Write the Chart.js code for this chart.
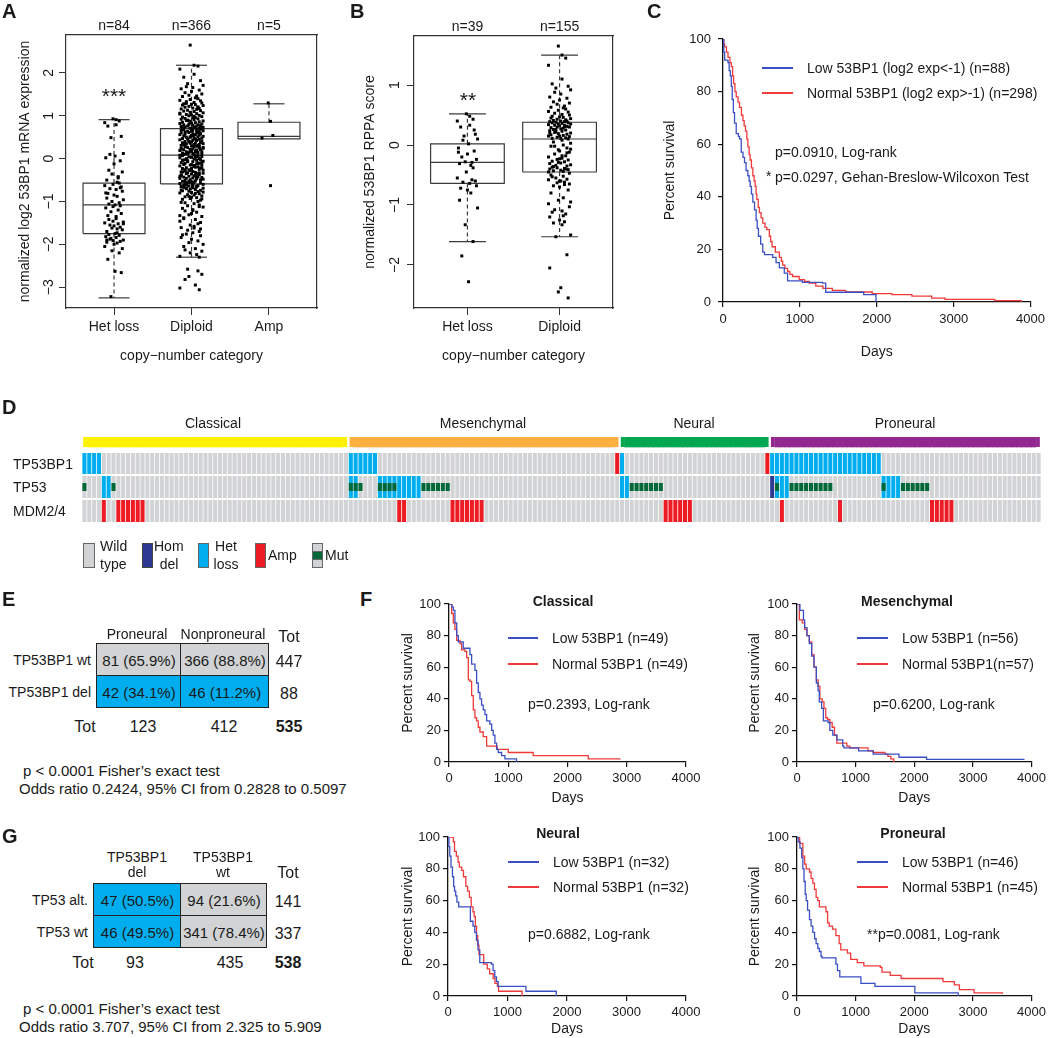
<!DOCTYPE html>
<html><head><meta charset="utf-8">
<script src="https://cdn.jsdelivr.net/npm/chart.js@4.4.0/dist/chart.umd.min.js"></script>
<style>
body{margin:0;background:#fff;width:1050px;height:1038px;position:relative;overflow:hidden;font-family:Arial,"Liberation Sans",Helvetica,sans-serif;color:#1a1a1a}
canvas{position:absolute}
.t{position:absolute;line-height:1;white-space:nowrap}
.r{position:absolute;box-sizing:border-box}
</style></head><body>
<script>
// ===================== DATA =====================
// shared jitter list (tenths of the half-spread), typed values
const J = [-1,2,5,-9,2,-6,7,-3,9,-4,1,-8,6,0,-5,8,-2,4,-7,3,
5,-1,-9,7,-4,2,8,-6,0,3,-7,9,-2,5,-5,1,6,-8,4,-3,
7,-6,2,-1,9,-9,4,-4,0,6,-2,8,-7,3,1,-5,5,-8,2,-3,
-4,9,-1,6,-7,3,0,-9,8,-2,5,-6,1,7,-3,4,-8,2,-5,9,
3,-7,6,-1,0,8,-4,5,-9,2,-2,7,-6,4,1,-8,9,-3,6,-5,
-2,4,-8,7,1,-5,3,-9,6,0,-6,9,-1,5,-4,2,8,-7,3,-3,
6,-9,1,4,-2,8,-5,0,7,-7,3,-1,9,-4,2,-6,5,-8,0,4,
-5,2,9,-3,6,-8,1,-1,7,-6,4,-9,3,0,8,-4,5,-2,-7,1,
8,-3,-6,2,5,-9,0,7,-1,4,-5,6,-8,3,1,-2,9,-4,-7,6,
-1,5,-7,3,8,-2,0,-9,6,-4,2,7,-6,4,-3,9,1,-8,5,-5,
4,-6,8,-1,2,-9,5,3,-4,7,-7,0,6,-2,9,-5,1,-8,3,-3,
9,-4,0,6,-8,2,-2,5,-6,8,1,-9,4,-1,7,-5,3,-7,0,2,
-3,7,-9,1,5,-4,8,-6,2,0,-1,6,-8,4,9,-2,-5,3,-7,6,
2,-5,4,-9,7,-1,6,-3,0,8,-7,3,-4,9,1,-6,5,-2,-8,4,
-6,1,9,-4,3,-8,7,-2,5,0,-9,6,-3,2,8,-5,4,-1,-7,7,
5,-8,2,6,-3,9,-7,1,-5,4,0,-2,8,-6,3,-9,7,-4,1,-1,
-7,3,-2,8,-5,6,1,-9,4,-4,9,0,-6,5,-1,2,-8,7,-3,6,
1,-4,7,-8,0,5,-2,9,-6,3,-5,8,-1,4,-9,6,2,-7,-3,5,
8,-2,-5,3,-9,6];

// ---- Panel A : mRNA expression by copy number
const A_categories = ['Het loss','Diploid','Amp'];
const A_nLabels = ['n=84','n=366','n=5'];
const A_whiskerLow = [-3.25,-2.30,0.46];
const A_q1 = [-1.75,-0.59,0.46];
const A_median = [-1.08,0.08,0.52];
const A_q3 = [-0.57,0.70,0.85];
const A_whiskerHigh = [0.91,2.18,1.28];
const A_yTicks = [-3,-2,-1,0,1,2];
const A_hetLoss = [0.93,0.91,0.88,0.84,0.79,0.76,0.52,0.49,0.12,0.10,0.06,0.02,-0.05,-0.12,-0.27,-0.31,-0.36,-0.42,-0.50,-0.55,
-0.57,-0.60,-0.63,-0.66,-0.70,-0.72,-0.76,-0.81,-0.85,-0.88,-0.92,-0.96,-1.00,-1.03,-1.06,-1.08,-1.10,-1.15,-1.20,-1.24,
-1.28,-1.33,-1.40,-1.46,-1.48,-1.50,-1.52,-1.55,-1.57,-1.60,-1.62,-1.66,-1.70,-1.73,-1.75,-1.77,-1.79,-1.82,-1.84,-1.86,
-1.88,-1.90,-1.91,-1.93,-1.95,-1.97,-2.00,-2.05,-2.10,-2.15,-2.20,-2.35,-2.63,-2.66,-3.22,-0.45,-0.80,-1.35,-1.42,-1.52,-1.64,-1.90,-0.68,-1.12];
const A_diploid = [2.65,2.18,2.16,2.09,1.97,1.90,1.82,1.75,1.71,1.68,1.66,1.63,1.60,1.57,1.54,1.51,
1.48,1.46,1.45,1.42,1.40,1.38,1.36,1.35,1.33,1.31,1.30,1.28,1.27,1.26,1.25,1.24,1.22,1.21,1.20,1.18,
1.17,1.16,1.15,1.13,1.12,1.11,1.10,1.08,1.07,1.06,1.05,1.03,1.02,1.01,1.00,0.98,0.97,0.96,0.95,0.94,
0.93,0.92,0.91,0.90,0.89,0.88,0.87,0.86,0.85,0.84,0.83,0.82,0.81,0.80,0.79,0.79,0.78,0.77,0.76,0.76,
0.75,0.74,0.74,0.73,0.72,0.72,0.71,0.71,0.70,0.70,1.29,1.19,1.04,0.99,0.88,
0.69,0.68,0.67,0.66,0.66,0.65,0.64,0.63,0.62,0.61,0.61,0.60,0.59,0.58,0.57,0.56,0.56,0.55,0.54,0.53,
0.52,0.51,0.51,0.50,0.49,0.48,0.47,0.46,0.46,0.45,0.44,0.43,0.42,0.41,0.41,0.40,0.39,0.38,0.37,0.36,
0.36,0.35,0.34,0.33,0.32,0.31,0.31,0.30,0.29,0.28,0.27,0.26,0.26,0.25,0.24,0.23,0.22,0.21,0.21,0.20,
0.19,0.18,0.17,0.16,0.16,0.15,0.14,0.13,0.12,0.11,0.11,0.10,0.09,0.09,0.08,0.64,0.58,0.50,0.43,0.35,
0.28,0.22,0.15,0.53,0.39,0.24,0.12,0.47,0.33,0.19,0.60,
0.07,0.06,0.05,0.04,0.03,0.02,0.01,0.00,-0.01,-0.02,-0.03,-0.04,-0.05,-0.06,-0.07,-0.09,-0.10,-0.11,-0.12,-0.13,
-0.14,-0.15,-0.16,-0.17,-0.19,-0.20,-0.21,-0.22,-0.23,-0.24,-0.25,-0.26,-0.27,-0.29,-0.30,-0.31,-0.32,-0.33,-0.34,-0.35,
-0.36,-0.37,-0.39,-0.40,-0.41,-0.42,-0.43,-0.44,-0.45,-0.46,-0.47,-0.49,-0.50,-0.51,-0.52,-0.53,-0.54,-0.55,-0.56,-0.57,
-0.58,-0.59,0.05,-0.02,-0.08,-0.13,-0.18,-0.23,-0.28,-0.33,-0.38,-0.44,-0.48,-0.53,-0.57,0.03,-0.04,-0.11,-0.16,-0.26,
-0.35,-0.42,-0.50,-0.55,0.00,-0.07,-0.14,-0.21,-0.31,-0.40,-0.46,
-0.60,-0.61,-0.62,-0.63,-0.64,-0.65,-0.66,-0.67,-0.68,-0.69,-0.70,-0.72,-0.73,-0.74,-0.76,-0.77,-0.79,-0.80,-0.82,-0.84,
-0.85,-0.87,-0.89,-0.91,-0.93,-0.95,-0.97,-1.00,-1.02,-1.05,-1.08,-1.10,-1.13,-1.16,-1.19,-1.22,-1.25,-1.28,-1.31,-1.35,
-1.38,-1.42,-1.46,-1.49,-0.62,-0.66,-0.71,-0.75,-0.81,-0.88,-0.94,-1.03,-1.12,-1.21,-1.33,-0.64,-0.70,-0.78,-0.90,-1.40,
-1.52,-1.55,-1.58,-1.61,-1.64,-1.67,-1.70,-1.73,-1.76,-1.80,-1.84,-1.88,-1.92,-1.96,-2.00,-2.05,-2.10,-2.13,-2.16,-2.20,
-2.24,-2.28,-2.30,-1.62,-1.78,
-2.58,-2.62,-2.70,-2.75,-2.82,-2.95,-3.02,-3.06];
const A_amp = [1.30,0.87,0.54,0.48,-0.63];

// ---- Panel B : RPPA score by copy number
const B_categories = ['Het loss','Diploid'];
const B_nLabels = ['n=39','n=155'];
const B_whiskerLow = [-1.61,-1.53];
const B_q1 = [-0.64,-0.45];
const B_median = [-0.29,0.10];
const B_q3 = [0.02,0.38];
const B_whiskerHigh = [0.52,1.50];
const B_yTicks = [-2,-1,0,1];
const B_hetLoss = [0.52,0.48,0.43,0.40,0.33,0.30,0.18,0.15,0.10,0.08,0.02,-0.05,-0.10,-0.15,-0.20,-0.24,-0.28,-0.29,-0.31,-0.34,
-0.38,-0.45,-0.55,-0.60,-0.62,-0.64,-0.68,-0.72,-0.75,-0.80,-0.92,-1.05,-1.33,-1.61,-1.85,-2.28,0.25,-0.12,-0.58];
const B_diploid = [1.65,1.50,1.45,1.33,1.10,1.02,0.98,0.95,0.92,0.88,0.85,0.80,0.78,0.75,0.72,0.70,0.68,0.65,0.63,0.62,
0.60,0.58,0.56,0.55,0.53,0.51,0.50,0.48,0.47,0.46,0.45,0.44,0.43,0.42,0.41,0.40,0.40,0.39,0.39,
0.38,0.37,0.37,0.36,0.35,0.35,0.34,0.33,0.33,0.32,0.31,0.30,0.30,0.29,0.28,0.27,0.26,0.25,0.24,0.23,
0.22,0.21,0.20,0.19,0.18,0.17,0.16,0.15,0.15,0.14,0.13,0.12,0.11,0.11,0.10,0.26,0.31,0.20,
0.08,0.05,0.03,0.00,-0.02,-0.05,-0.08,-0.10,-0.12,-0.15,-0.18,-0.20,-0.22,-0.24,-0.25,-0.27,-0.28,-0.30,-0.31,-0.33,
-0.34,-0.35,-0.36,-0.38,-0.39,-0.40,-0.41,-0.42,-0.43,-0.44,-0.45,-0.13,-0.23,-0.37,-0.07,-0.29,-0.40,-0.02,-0.18,
-0.47,-0.50,-0.52,-0.55,-0.57,-0.58,-0.60,-0.62,-0.63,-0.65,-0.68,-0.70,-0.75,-0.80,-0.88,-0.92,-0.95,-1.08,-1.10,-1.12,
-1.15,-1.20,-1.25,-1.28,-1.30,-1.33,-1.50,-1.53,-1.83,-2.05,-2.38,-2.45,-2.55,-0.53,-0.66,-0.98,-1.18,-0.60,-1.03];

// ---- Panel C : survival, all samples  [days, percent]
const C_low = [[0,100],[10,95],[22,92],[65,91],[80,88],[95,86],[108,82],[120,77],[135,72],[150,68],[172,64],[200,63],[215,62],[237,57],[260,55],[280,53],[300,50],[323,48],[340,46],[353,44],[370,41],[388,38],[410,35],[431,31],[445,28],[461,25],[490,22],[517,19],[540,18],[646,17],[690,15],[733,13],[797,11],[840,8],[1034,7.5],[1293,7.2],[1336,3.7],[1810,3.7],[1830,2.8],[1983,2.8],[1990,0]];
const C_normal = [[0,100],[10,98],[22,97],[45,95],[65,93],[90,91],[108,89.5],[125,86],[138,83],[155,80],[172,78],[195,76],[215,74],[240,71],[259,69],[275,67],[293,65],[310,62],[323,59],[340,56],[353,54],[370,51],[388,48],[405,46],[418,44],[430,41],[440,39],[458,36],[474,34],[495,32],[517,30],[545,28.5],[569,27.5],[603,25],[620,23],[638,21],[681,19],[733,17],[760,15.5],[776,14],[805,12.8],[840,11.6],[870,10.5],[905,9.7],[991,8.5],[1060,7.8],[1121,7.2],[1207,6],[1300,5.2],[1422,4.4],[1595,3.8],[1940,3.2],[2198,2.8],[2457,2.2],[2715,1.5],[2888,1],[3535,0.5],[3880,0]];

// ---- Panel D : alteration matrix
const D_groups = ['Classical','Mesenchymal','Neural','Proneural'];
const D_groupSizes = [55,56,31,56];
const D_rows = ['TP53BP1','TP53','MDM2/4'];
// [first column, last column, code]  H=het loss, D=hom del, A=amp, M=mutation, X=het loss + mutation
const D_TP53BP1_events = [[0,3,'H'],[55,60,'H'],[110,110,'A'],[111,111,'H'],[141,141,'A'],[142,164,'H']];
const D_TP53_events = [[0,0,'M'],[4,5,'H'],[6,6,'M'],[55,56,'X'],[57,57,'M'],[61,64,'X'],[65,69,'H'],[70,75,'M'],[111,112,'H'],[113,119,'M'],[142,142,'D'],[143,143,'X'],[144,145,'H'],[146,154,'M'],[165,165,'X'],[166,168,'H'],[169,174,'M']];
const D_MDM_events = [[4,4,'A'],[7,12,'A'],[65,66,'A'],[76,82,'A'],[120,125,'A'],[144,144,'A'],[156,156,'A'],[175,179,'A']];

// ---- Panel E / G tables
const E_colHeads = ['Proneural','Nonproneural'];
const E_rowHeads = ['TP53BP1 wt','TP53BP1 del'];
const E_cells = [['81 (65.9%)','366 (88.8%)'],['42 (34.1%)','46 (11.2%)']];
const E_rowTot = ['447','88'];
const E_colTot = ['123','412'];
const E_total = '535';
const G_colHeads = [['TP53BP1','del'],['TP53BP1','wt']];
const G_rowHeads = ['TP53 alt.','TP53 wt'];
const G_cells = [['47 (50.5%)','94 (21.6%)'],['46 (49.5%)','341 (78.4%)']];
const G_rowTot = ['141','337'];
const G_colTot = ['93','435'];
const G_total = '538';

// ---- Panel F : survival by subtype [days, percent]
const F_classical_low = [[0,100],[45,100],[50,98],[73,96],[100,88],[130,80],[157,76],[213,76],[240,72],[326,72],[354,68],[382,62],[438,58],[466,50],[494,44],[522,40],[550,36],[578,33],[607,30],[635,26],[690,24],[720,20],[747,17],[775,12],[803,8],[831,6],[888,4],[944,2],[1140,0]];
const F_classical_normal = [[0,100],[45,94],[73,88],[100,84],[130,77],[185,75],[213,71],[270,70],[298,66],[326,52],[354,51],[382,42],[410,33],[438,28],[466,26],[494,22],[522,19],[578,16],[635,10],[803,10],[815,8],[1000,6],[1421,4],[2350,2],[2880,1.5]];
const F_mesen_low = [[0,100],[50,96],[110,90],[130,85],[170,80],[210,75],[250,67],[290,60],[330,50],[360,45],[380,38],[420,34],[450,26],[530,25],[560,20],[610,17],[680,14],[780,10],[800,9],[1050,7],[1170,7],[1300,5],[1730,5],[1740,3],[2200,3],[2210,1.7],[3880,1.7]];
const F_mesen_normal = [[0,100],[40,90],[90,88],[130,84],[170,80],[210,76],[250,68],[290,60],[330,52],[360,48],[390,40],[430,38],[460,34],[490,28],[520,27],[560,25],[600,22],[640,17],[680,12],[750,12],[850,10],[900,9],[1200,9],[1210,7],[1300,6],[1500,5],[1550,3.5],[1600,2],[1650,0]];
const F_neural_low = [[0,100],[15,94],[30,88],[50,81],[75,75],[95,69],[110,66],[130,63],[150,59],[180,56],[365,56],[376,47],[420,44],[450,40],[478,35],[505,29],[534,21],[730,20],[758,16],[786,12],[815,9],[843,6],[1303,6],[1310,3],[1815,3],[1820,0]];
const F_neural_normal = [[0,100],[70,100],[90,97],[110,91],[140,88],[170,84],[190,81],[230,79],[260,75],[300,69],[330,66],[360,62],[390,56],[420,53],[440,50],[460,44],[480,38],[500,32],[520,26],[580,26],[600,20],[660,17],[700,14],[760,11],[790,8],[830,6],[850,3],[1240,3],[1245,0]];
const F_proneural_low = [[0,100],[20,97],[50,93],[80,87],[100,80],[120,72],[140,64],[157,60],[180,54],[213,48],[240,44],[270,40],[300,36],[326,33],[355,30],[382,28],[410,25],[427,24],[635,24],[663,20],[690,16],[730,12],[1084,12],[1090,8],[1320,8],[1330,6],[2000,6],[2010,2],[2740,2],[2750,0]];
const F_proneural_normal = [[0,100],[45,96],[100,88],[130,83],[157,80],[213,78],[240,74],[270,71],[298,67],[326,62],[354,60],[382,56],[494,53],[522,46],[550,44],[606,42],[663,38],[719,33],[747,29],[860,27],[916,23],[1028,21],[1140,19],[1421,18],[1450,15],[1590,13],[1775,11],[2490,9],[2685,7],[2770,4],[3020,2],[3500,1.2]];

// ===================== STYLE / HELPERS =====================
const FONT = 'Arial, "Liberation Sans", Helvetica, sans-serif';
const INK = '#1a1a1a';
const BLUE = '#3b4fc4', RED = '#f03a3a';
Chart.defaults.font.family = FONT;
Chart.defaults.color = INK;

function mkCanvas(x,y,w,h){
  const c=document.createElement('canvas'); c.width=w; c.height=h;
  c.style.left=x+'px'; c.style.top=y+'px'; c.style.width=w+'px'; c.style.height=h+'px';
  document.body.appendChild(c); return c;
}
const deferred=[];
function txt(s,x,y,o){
  o=o||{};
  deferred.push(()=>{
    const d=document.createElement('div'); d.className='t'; d.textContent=s;
    d.style.left=x+'px'; d.style.top=y+'px'; d.style.fontSize=(o.size||14)+'px';
    if(o.bold) d.style.fontWeight='bold';
    const ax=o.align==='center'?'-50%':(o.align==='right'?'-100%':'0');
    d.style.transform='translate('+ax+',-50%)';
    document.body.appendChild(d);
  });
}
function rect(x,y,w,h,bg,border){
  const d=document.createElement('div'); d.className='r';
  d.style.left=x+'px'; d.style.top=y+'px'; d.style.width=w+'px'; d.style.height=h+'px';
  d.style.background=bg; if(border) d.style.border=border;
  document.body.appendChild(d); return d;
}
const fmtMinus = v => v<0 ? '\u2212'+Math.abs(v) : String(v);

// ===================== BOX PLOTS (A, B) =====================
function boxChart(cfg){
  const c=mkCanvas(cfg.x,cfg.y,cfg.W,cfg.H);
  const ds=[];
  const lineCol='#3a3a3a';
  const seg=(data,dash)=>ds.push({data,showLine:true,borderColor:lineCol,borderWidth:1.2,borderDash:dash||[],pointRadius:0,order:2});
  cfg.cats.forEach((cat,i)=>{
    const x=i+1, bh=0.4, ch=0.2;
    const lo=cfg.lo[i], q1=cfg.q1[i], md=cfg.med[i], q3=cfg.q3[i], hi=cfg.hi[i];
    seg([{x:x-bh,y:q1},{x:x+bh,y:q1},{x:x+bh,y:q3},{x:x-bh,y:q3},{x:x-bh,y:q1}]);
    seg([{x:x-bh,y:md},{x:x+bh,y:md}]);
    if(hi>q3){ seg([{x:x,y:q3},{x:x,y:hi}],[4,3]); seg([{x:x-ch,y:hi},{x:x+ch,y:hi}]); }
    if(lo<q1){ seg([{x:x,y:q1},{x:x,y:lo}],[4,3]); seg([{x:x-ch,y:lo},{x:x+ch,y:lo}]); }
  });
  const pts=[];
  cfg.points.forEach((arr,g)=>arr.forEach((v,i)=>pts.push({x:g+1+J[i]/9*cfg.spread[g],y:v})));
  ds.push({data:pts,pointStyle:'rect',pointRadius:2.1,pointBackgroundColor:'#000',pointBorderWidth:0,showLine:false,order:0});
  const tickX = s=>{ s.ticks=cfg.cats.map((_,i)=>({value:i+1})); };
  const A=cfg.area;
  new Chart(c,{type:'scatter',data:{datasets:ds},options:{
    responsive:false,animation:false,devicePixelRatio:1,
    plugins:{legend:{display:false},tooltip:{enabled:false}},
    layout:{padding:0},
    scales:{
      x:{type:'linear',position:'bottom',min:cfg.xmin,max:cfg.xmax,afterBuildTicks:tickX,
        ticks:{callback:v=>cfg.cats[Math.round(v)-1],font:{size:14},color:INK,padding:4,autoSkip:false,maxRotation:0},
        grid:{display:true,drawOnChartArea:false,drawTicks:true,tickLength:7,color:'#333'},
        border:{display:true,color:'#333',width:1.2},
        title:{display:true,text:'copy\u2212number category',font:{size:14},color:INK,padding:{top:0,bottom:15.6}},
        afterFit:s=>{s.height=cfg.H-A.b;}},
      xt:{type:'linear',position:'top',min:cfg.xmin,max:cfg.xmax,afterBuildTicks:tickX,
        ticks:{callback:v=>cfg.nLabels[Math.round(v)-1],font:{size:14},color:INK,padding:0,autoSkip:false,maxRotation:0},
        grid:{display:false,drawTicks:false},border:{display:true,color:'#333',width:1.2},
        afterFit:s=>{s.height=A.t;}},
      y:{type:'linear',position:'left',min:cfg.ymin,max:cfg.ymax,afterBuildTicks:s=>{s.ticks=cfg.yTicks.map(v=>({value:v}));},
        ticks:{callback:v=>fmtMinus(v),font:{size:14},color:INK,minRotation:90,maxRotation:90,crossAlign:'center',padding:cfg.yTickPad},
        grid:{display:true,drawOnChartArea:false,drawTicks:true,tickLength:7,color:'#333'},
        border:{display:true,color:'#333',width:1.2},
        title:{display:true,text:cfg.yTitle,font:{size:14},color:INK,padding:{top:cfg.yTitlePad,bottom:0}},
        afterFit:s=>{s.width=A.l;}},
      yr:{type:'linear',position:'right',min:0,max:1,ticks:{display:false},grid:{display:false,drawTicks:false},
        border:{display:true,color:'#333',width:1.2},afterFit:s=>{s.width=cfg.W-A.r;}}
    }}});
}
boxChart({x:0,y:0,W:330,H:380,area:{l:66,r:317,t:35,b:308},cats:A_categories,nLabels:A_nLabels,
  lo:A_whiskerLow,q1:A_q1,med:A_median,q3:A_q3,hi:A_whiskerHigh,points:[A_hetLoss,A_diploid,A_amp],spread:[0.12,0.15,0.09],
  xmin:0.38,xmax:3.62,ymin:-3.486,ymax:2.886,yTicks:A_yTicks,yTitle:'normalized log2 53BP1 mRNA expression',yTitlePad:16.6,yTickPad:2});
boxChart({x:340,y:0,W:320,H:380,area:{l:74,r:273,t:36,b:308},cats:B_categories,nLabels:B_nLabels,
  lo:B_whiskerLow,q1:B_q1,med:B_median,q3:B_q3,hi:B_whiskerHigh,points:[B_hetLoss,B_diploid],spread:[0.11,0.12],
  xmin:0.42,xmax:2.58,ymin:-2.718,ymax:1.818,yTicks:B_yTicks,yTitle:'normalized 53BP1 RPPA score',yTitlePad:21.6,yTickPad:4});
txt('***',114,95,{size:21,align:'center'});
txt('**',468,99,{size:21,align:'center'});

// ===================== KM CURVES (C, F) =====================
function kmChart(cfg){
  const c=mkCanvas(cfg.x,cfg.y,cfg.W,cfg.H);
  const A=cfg.area;
  const toPts=a=>a.map(p=>({x:p[0],y:p[1]}));
  new Chart(c,{type:'scatter',data:{datasets:[
    {data:toPts(cfg.low),showLine:true,stepped:true,borderColor:BLUE,borderWidth:1.3,pointRadius:0},
    {data:toPts(cfg.normal),showLine:true,stepped:true,borderColor:RED,borderWidth:1.3,pointRadius:0}
  ]},options:{
    responsive:false,animation:false,devicePixelRatio:1,
    plugins:{legend:{display:false},tooltip:{enabled:false}},
    layout:{padding:{left:0,right:cfg.W-A.r,top:A.t,bottom:0}},
    scales:{
      x:{type:'linear',min:0,max:4000,ticks:{stepSize:1000,callback:v=>String(v),font:{size:13},color:INK,padding:cfg.xTickPad,maxRotation:0},
        grid:{display:true,drawOnChartArea:false,drawTicks:true,tickLength:5,color:'#111',lineWidth:1.2},
        border:{display:true,color:'#111',width:1.3},
        title:{display:true,text:'Days',font:{size:14},color:INK,padding:{top:0,bottom:cfg.xTitlePad}},
        afterFit:s=>{s.height=cfg.H-A.b;}},
      y:{type:'linear',min:0,max:100,ticks:{stepSize:20,callback:v=>String(v),font:{size:13},color:INK,padding:cfg.yTickPad},
        grid:{display:true,drawOnChartArea:false,drawTicks:true,tickLength:5,color:'#111',lineWidth:1.2},
        border:{display:true,color:'#111',width:1.3},
        title:{display:true,text:'Percent survival',font:{size:14},color:INK,padding:{top:cfg.yTitlePad,bottom:0}},
        afterFit:s=>{s.width=A.l;}}
    }}});
}
function kmLegend(x1,x2,y1,y2,tx,lowText,normText){
  rect(x1,y1-0.75,x2-x1,1.5,BLUE); rect(x1,y2-0.75,x2-x1,1.5,RED);
  txt(lowText,tx,y1,{size:14}); txt(normText,tx,y2,{size:14});
}
kmChart({x:660,y:0,W:390,H:380,area:{l:63,r:372,t:39,b:302},low:C_low,normal:C_normal,xTickPad:5,yTickPad:7,xTitlePad:19.6,yTitlePad:1.6});
kmLegend(762,793,68,93,807,'Low 53BP1 (log2 exp<-1) (n=88)','Normal 53BP1 (log2 exp>-1) (n=298)');
txt('p=0.0910, Log-rank',775,152,{size:14});
txt('*',766,176,{size:14});
txt('p=0.0297, Gehan-Breslow-Wilcoxon Test',775,177,{size:14});

kmChart({x:380,y:590,W:330,H:225,area:{l:69,r:306,t:14,b:172},low:F_classical_low,normal:F_classical_normal,xTickPad:4,yTickPad:3,xTitlePad:8.6,yTitlePad:19.6});
kmChart({x:710,y:590,W:340,H:225,area:{l:87,r:324,t:14,b:172},low:F_mesen_low,normal:F_mesen_normal,xTickPad:4,yTickPad:3,xTitlePad:8.6,yTitlePad:36.6});
kmChart({x:380,y:820,W:330,H:218,area:{l:68,r:306,t:17,b:176},low:F_neural_low,normal:F_neural_normal,xTickPad:4,yTickPad:3,xTitlePad:0,yTitlePad:19.6});
kmChart({x:710,y:820,W:340,H:218,area:{l:87,r:324,t:17,b:176},low:F_proneural_low,normal:F_proneural_normal,xTickPad:4,yTickPad:3,xTitlePad:0,yTitlePad:36.6});
txt('Classical',563,601,{size:14,bold:true,align:'center'});
kmLegend(508,538,638,664,552,'Low 53BP1 (n=49)','Normal 53BP1 (n=49)');
txt('p=0.2393, Log-rank',528,704,{size:14});
txt('Mesenchymal',907,601,{size:14,bold:true,align:'center'});
kmLegend(857,888,638,664,902,'Low 53BP1 (n=56)','Normal 53BP1(n=57)');
txt('p=0.6200, Log-rank',873,704,{size:14});
txt('Neural',558,833,{size:14,bold:true,align:'center'});
kmLegend(508,539,862,887,553,'Low 53BP1 (n=32)','Normal 53BP1 (n=32)');
txt('p=0.6882, Log-rank',528,934,{size:14});
txt('Proneural',913,833,{size:14,bold:true,align:'center'});
kmLegend(857,888,862,887,902,'Low 53BP1 (n=46)','Normal 53BP1 (n=45)');
txt('**p=0.0081, Log-rank',867,934,{size:14});

// ===================== D : alteration matrix =====================
(function(){
  const N=D_groupSizes.reduce((a,b)=>a+b,0);
  const expand=ev=>{const a=new Array(N).fill('W'); ev.forEach(([s,e,c])=>{for(let i=s;i<=e;i++)a[i]=c;}); return a;};
  const rowCodes=[expand(D_TP53BP1_events),expand(D_TP53_events),expand(D_MDM_events)];
  const rowSpan=[[48,69],[24,46],[0,22]];
  const mutSpan=[[55,63],[31,39],[7,15]];
  const base={W:'#d2d3d5',M:'#d2d3d5',H:'#00aeef',X:'#00aeef',D:'#2b3990',A:'#ed1c24'};
  const GREEN='#006838';
  const groupCol=['#fff200','#fbb040','#00a651','#92278f'];
  const colGroup=[]; const gStart=new Set(), gEnd=new Set();
  let k=0; D_groupSizes.forEach((n,g)=>{gStart.add(k); for(let i=0;i<n;i++)colGroup.push(g); k+=n; gEnd.add(k-1);});
  const ds=[];
  rowCodes.forEach((codes,r)=>{
    ds.push({data:codes.map(()=>rowSpan[r]),backgroundColor:codes.map(c=>base[c]),grouped:false,barPercentage:0.84,categoryPercentage:1,borderWidth:0,order:2});
    ds.push({data:codes.map(c=>(c==='M'||c==='X')?mutSpan[r]:null),backgroundColor:GREEN,grouped:false,barPercentage:0.84,categoryPercentage:1,borderWidth:0,order:0});
  });
  ds.push({data:colGroup.map(()=>[75,85]),backgroundColor:colGroup.map(g=>groupCol[g]),grouped:false,barPercentage:1,categoryPercentage:1,order:2,
    borderColor:'#ffffff',borderSkipped:false,borderWidth:ctx=>({left:gStart.has(ctx.dataIndex)?1.5:0,right:gEnd.has(ctx.dataIndex)?1.5:0,top:0,bottom:0})});
  const c=mkCanvas(0,380,1050,150);
  new Chart(c,{type:'bar',data:{labels:colGroup.map((_,i)=>i),datasets:ds},options:{
    responsive:false,animation:false,devicePixelRatio:1,
    plugins:{legend:{display:false},tooltip:{enabled:false}},
    layout:{padding:{left:82,right:9,top:57,bottom:8}},
    scales:{x:{display:false},y:{display:false,min:0,max:85}}}});
})();
txt('Classical',213,423,{size:14,align:'center'});
txt('Mesenchymal',483,423,{size:14,align:'center'});
txt('Neural',694,423,{size:14,align:'center'});
txt('Proneural',905,423,{size:14,align:'center'});
txt('TP53BP1',13,464,{size:14});
txt('TP53',13,487,{size:14});
txt('MDM2/4',13,511,{size:14});
// legend
rect(83,543,12,25,'#d2d3d5','1px solid #666');
txt('Wild',100,546,{size:14}); txt('type',100,564,{size:14});
rect(142,543,11,25,'#2b3990','1px solid #444');
txt('Hom',154,546,{size:14}); txt('del',169,564,{size:14,align:'center'});
rect(198,543,11,25,'#00aeef','1px solid #666');
txt('Het',226,546,{size:14,align:'center'}); txt('loss',226,564,{size:14,align:'center'});
rect(255,543,11,25,'#ed1c24','1px solid #666');
txt('Amp',268,555,{size:14});
rect(312,543,11,25,'#d2d3d5','1px solid #666'); rect(312,551,11,9,'#006838','1px solid #666');
txt('Mut',325,555,{size:14});

// ===================== E / G tables =====================
const GREY='#d1d3d4', CYAN='#00aeef';
function table(cfg){
  const xs=cfg.xs, ys=cfg.ys;
  for(let r=0;r<2;r++)for(let cc=0;cc<2;cc++){
    rect(xs[cc],ys[r],xs[cc+1]-xs[cc]+1,ys[r+1]-ys[r]+1,cfg.fill[r][cc],'1px solid #222');
    txt(cfg.cells[r][cc],(xs[cc]+xs[cc+1])/2+1,(ys[r]+ys[r+1])/2+1,{size:15,align:'center'});
  }
  cfg.rowHeads.forEach((s,r)=>txt(s,cfg.rowHeadX,(ys[r]+ys[r+1])/2+1,{size:14,align:'right'}));
  cfg.rowTot.forEach((s,r)=>txt(s,cfg.totX,(ys[r]+ys[r+1])/2+3,{size:16,align:'center'}));
  cfg.colTot.forEach((s,cc)=>txt(s,cfg.colTotX[cc],cfg.botY,{size:16,align:'center'}));
  txt('Tot',cfg.totLabelX,cfg.botY,{size:16,align:'center'});
  txt(cfg.total,cfg.totX,cfg.botY,{size:16,bold:true,align:'center'});
  txt('Tot',cfg.totX,cfg.topTotY,{size:16,align:'center'});
  txt('p < 0.0001 Fisher\u2019s exact test',23,cfg.textY,{size:15});
  txt(cfg.odds,19,cfg.textY+18,{size:15});
}
table({xs:[96,180,268],ys:[643,675,707],fill:[[GREY,GREY],[CYAN,CYAN]],cells:E_cells,rowHeads:E_rowHeads,rowHeadX:91,
  rowTot:E_rowTot,totX:289,colTot:E_colTot,colTotX:[143,224],botY:727,totLabelX:85,total:E_total,topTotY:637,
  textY:770,odds:'Odds ratio 0.2424, 95% CI from 0.2828 to 0.5097'});
txt(E_colHeads[0],137,634,{size:14,align:'center'});
txt(E_colHeads[1],223,634,{size:14,align:'center'});
table({xs:[93,180,266],ys:[883,915,947],fill:[[CYAN,GREY],[CYAN,GREY]],cells:G_cells,rowHeads:G_rowHeads,rowHeadX:88,
  rowTot:G_rowTot,totX:288,colTot:G_colTot,colTotX:[135,230],botY:963,totLabelX:83,total:G_total,topTotY:873,
  textY:1008,odds:'Odds ratio 3.707, 95% CI from 2.325 to 5.909'});
G_colHeads.forEach((h,i)=>{ const cx=i===0?137:223; txt(h[0],cx,857,{size:14,align:'center'}); txt(h[1],cx,872,{size:14,align:'center'}); });

// panel letters
[['A',2,11],['B',350,11],['C',647,11],['D',2,407],['E',2,599],['F',360,599],['G',2,836]].forEach(([s,x,y])=>txt(s,x,y,{size:20,bold:true}));
deferred.forEach(f=>f());
</script>
</body></html>
